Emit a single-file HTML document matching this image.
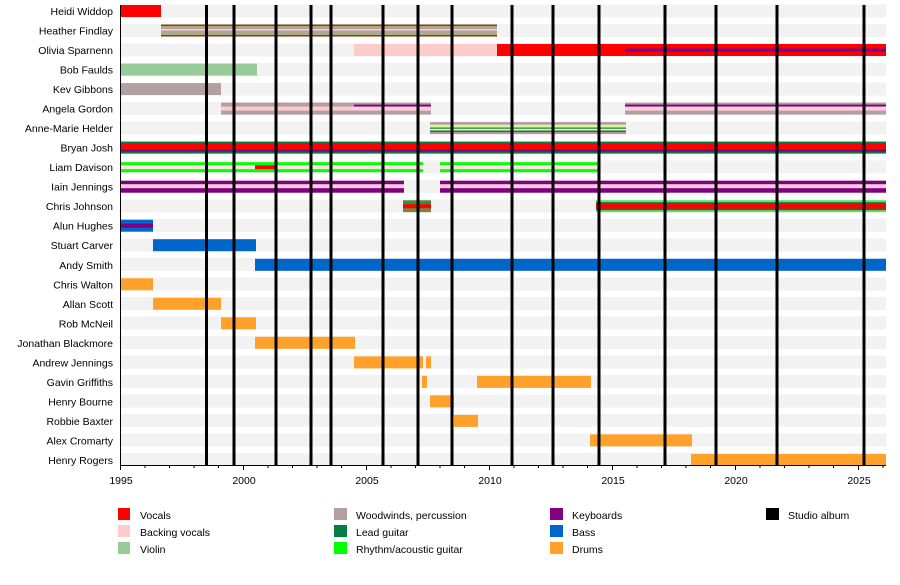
<!DOCTYPE html>
<html><head><meta charset="utf-8"><style>
body{margin:0;background:#fff;}
svg{display:block;font-family:"Liberation Sans",sans-serif;}
</style></head><body>
<svg width="900" height="585" viewBox="0 0 900 585" xmlns="http://www.w3.org/2000/svg">
<g fill="#f2f2f2">
<rect x="120" y="4.5" width="766" height="13"/><rect x="120" y="24" width="766" height="13"/><rect x="120" y="43.5" width="766" height="13"/><rect x="120" y="63" width="766" height="13"/><rect x="120" y="82.5" width="766" height="13"/><rect x="120" y="102" width="766" height="13"/><rect x="120" y="121.5" width="766" height="13"/><rect x="120" y="141" width="766" height="13"/><rect x="120" y="160.5" width="766" height="13"/><rect x="120" y="180" width="766" height="13"/><rect x="120" y="199.5" width="766" height="13"/><rect x="120" y="219" width="766" height="13"/><rect x="120" y="238.5" width="766" height="13"/><rect x="120" y="258" width="766" height="13"/><rect x="120" y="277.5" width="766" height="13"/><rect x="120" y="297" width="766" height="13"/><rect x="120" y="316.5" width="766" height="13"/><rect x="120" y="336" width="766" height="13"/><rect x="120" y="355.5" width="766" height="13"/><rect x="120" y="375" width="766" height="13"/><rect x="120" y="394.5" width="766" height="13"/><rect x="120" y="414" width="766" height="13"/><rect x="120" y="433.5" width="766" height="13"/><rect x="120" y="453" width="766" height="13"/>
</g>
<g font-size="10.5" text-anchor="end" fill="#000">
<text x="113" y="15">Heidi Widdop</text><text x="113" y="34.5">Heather Findlay</text><text x="113" y="54">Olivia Sparnenn</text><text x="113" y="73.6">Bob Faulds</text><text x="113" y="93.1">Kev Gibbons</text><text x="113" y="112.6">Angela Gordon</text><text x="113" y="132.1">Anne-Marie Helder</text><text x="113" y="151.6">Bryan Josh</text><text x="113" y="171.2">Liam Davison</text><text x="113" y="190.7">Iain Jennings</text><text x="113" y="210.2">Chris Johnson</text><text x="113" y="229.7">Alun Hughes</text><text x="113" y="249.2">Stuart Carver</text><text x="113" y="268.8">Andy Smith</text><text x="113" y="288.3">Chris Walton</text><text x="113" y="307.8">Allan Scott</text><text x="113" y="327.3">Rob McNeil</text><text x="113" y="346.8">Jonathan Blackmore</text><text x="113" y="366.4">Andrew Jennings</text><text x="113" y="385.9">Gavin Griffiths</text><text x="113" y="405.4">Henry Bourne</text><text x="113" y="424.9">Robbie Baxter</text><text x="113" y="444.4">Alex Cromarty</text><text x="113" y="464">Henry Rogers</text>
</g>
<!-- Heidi -->
<rect x="120" y="5" width="41" height="12" fill="#ff0000"/>
<!-- Heather -->
<rect x="161" y="24.5" width="336" height="12" fill="#8b3a1a"/>
<rect x="161" y="26" width="336" height="9" fill="#b3a0a0"/>
<rect x="161" y="26.5" width="336" height="1" fill="#a0c040"/>
<rect x="161" y="33.5" width="336" height="1" fill="#a0c040"/>
<rect x="161" y="29" width="336" height="1.5" fill="#ffcccc"/>
<!-- Olivia -->
<rect x="354" y="44" width="143" height="12" fill="#ffcccc"/>
<rect x="497" y="44" width="389" height="12" fill="#ff0000"/>
<rect x="625" y="48.5" width="261" height="3" fill="#800080"/>
<!-- Bob -->
<rect x="120" y="63.6" width="137" height="12" fill="#99cc99"/>
<!-- Kev -->
<rect x="120" y="83.1" width="101" height="12" fill="#b3a0a0"/>
<!-- Angela -->
<rect x="221" y="102.6" width="133" height="12" fill="#b3a0a0"/>
<rect x="221" y="106.6" width="133" height="4" fill="#ffcccc"/>
<rect x="354" y="102.6" width="77" height="12" fill="#b3a0a0"/>
<rect x="354" y="104.6" width="77" height="2" fill="#800080"/>
<rect x="354" y="106.6" width="77" height="4" fill="#ffccdd"/>
<rect x="625" y="102.6" width="261" height="12" fill="#b3a0a0"/>
<rect x="625" y="104.6" width="261" height="2" fill="#800080"/>
<rect x="625" y="106.6" width="261" height="4" fill="#ffccdd"/>
<!-- Anne-Marie -->
<rect x="430" y="122.1" width="196" height="12" fill="#c090b0"/>
<rect x="430" y="124.6" width="196" height="7" fill="#ccff99"/>
<rect x="430" y="127.6" width="196" height="1" fill="#006030"/>
<rect x="430" y="130.6" width="196" height="1.2" fill="#006030"/>
<!-- Bryan -->
<rect x="120" y="141.6" width="766" height="12" fill="#007f3f"/>
<rect x="120" y="143.6" width="766" height="7" fill="#ff0000"/>
<rect x="120" y="149.6" width="766" height="2" fill="#800080"/>
<!-- Liam -->
<rect x="120" y="162.2" width="303" height="3" fill="#00ff00"/>
<rect x="120" y="165.2" width="303" height="4" fill="#ffe0e0"/>
<rect x="120" y="169.2" width="303" height="3" fill="#00ff00"/>
<rect x="255" y="165.2" width="21" height="4" fill="#ff0000"/>
<rect x="440" y="162.2" width="158" height="3" fill="#00ff00"/>
<rect x="440" y="165.2" width="158" height="4" fill="#ffe0e0"/>
<rect x="440" y="169.2" width="158" height="3" fill="#00ff00"/>
<!-- Iain -->
<rect x="120" y="180.7" width="284" height="12" fill="#800080"/>
<rect x="120" y="184.2" width="284" height="4" fill="#ffccdd"/>
<rect x="440" y="180.7" width="446" height="12" fill="#800080"/>
<rect x="440" y="184.2" width="446" height="4" fill="#ffccdd"/>
<!-- Chris Johnson -->
<rect x="403" y="200.2" width="28" height="12" fill="#808040"/>
<rect x="403" y="201.7" width="28" height="2" fill="#00a040"/>
<rect x="403" y="204.2" width="28" height="4" fill="#ff0000"/>
<rect x="596" y="200.2" width="290" height="12" fill="#66dd66"/>
<rect x="596" y="202.2" width="290" height="8" fill="#007f3f"/>
<rect x="596" y="203.7" width="290" height="5" fill="#ff0000"/>
<!-- Alun -->
<rect x="120" y="219.7" width="33" height="12" fill="#0066cc"/>
<rect x="120" y="223.7" width="33" height="4" fill="#800080"/>
<!-- Stuart / Andy -->
<rect x="153" y="239.2" width="103" height="12" fill="#0066cc"/>
<rect x="255" y="258.8" width="631" height="12" fill="#0066cc"/>
<!-- Drums -->
<g fill="#ffa12b">
<rect x="120" y="278.3" width="33" height="12"/>
<rect x="153" y="297.8" width="68" height="12"/>
<rect x="221" y="317.3" width="35" height="12"/>
<rect x="255" y="336.8" width="100" height="12"/>
<rect x="354" y="356.4" width="69" height="12"/>
<rect x="426" y="356.4" width="5" height="12"/>
<rect x="422" y="375.9" width="5" height="12"/>
<rect x="477" y="375.9" width="114" height="12"/>
<rect x="430" y="395.4" width="24" height="12"/>
<rect x="454" y="414.9" width="24" height="12"/>
<rect x="590" y="434.4" width="102" height="12"/>
<rect x="691" y="454" width="195" height="12"/>
</g>
<!-- albums -->
<g stroke="#000" stroke-width="3">
<line x1="206.5" y1="5" x2="206.5" y2="465"/><line x1="234" y1="5" x2="234" y2="465"/><line x1="276" y1="5" x2="276" y2="465"/><line x1="311" y1="5" x2="311" y2="465"/><line x1="331" y1="5" x2="331" y2="465"/><line x1="383" y1="5" x2="383" y2="465"/><line x1="418" y1="5" x2="418" y2="465"/><line x1="452" y1="5" x2="452" y2="465"/><line x1="512" y1="5" x2="512" y2="465"/><line x1="553" y1="5" x2="553" y2="465"/><line x1="599" y1="5" x2="599" y2="465"/><line x1="665" y1="5" x2="665" y2="465"/><line x1="716" y1="5" x2="716" y2="465"/><line x1="777" y1="5" x2="777" y2="465"/><line x1="864" y1="5" x2="864" y2="465"/>
</g>
<!-- axes -->
<g stroke="#000" stroke-width="1">
<line x1="120.5" y1="5" x2="120.5" y2="466"/>
<line x1="120" y1="465.5" x2="886" y2="465.5"/>
<line x1="120.5" y1="465" x2="120.5" y2="470"/><line x1="243.5" y1="465" x2="243.5" y2="470"/><line x1="366.5" y1="465" x2="366.5" y2="470"/><line x1="489.5" y1="465" x2="489.5" y2="470"/><line x1="612.5" y1="465" x2="612.5" y2="470"/><line x1="735.5" y1="465" x2="735.5" y2="470"/><line x1="858.5" y1="465" x2="858.5" y2="470"/>
<line x1="145" y1="465" x2="145" y2="468"/><line x1="169.5" y1="465" x2="169.5" y2="468"/><line x1="194" y1="465" x2="194" y2="468"/><line x1="218.5" y1="465" x2="218.5" y2="468"/>
<line x1="268" y1="465" x2="268" y2="468"/><line x1="292.5" y1="465" x2="292.5" y2="468"/><line x1="317" y1="465" x2="317" y2="468"/><line x1="341.5" y1="465" x2="341.5" y2="468"/>
<line x1="391" y1="465" x2="391" y2="468"/><line x1="415.5" y1="465" x2="415.5" y2="468"/><line x1="440" y1="465" x2="440" y2="468"/><line x1="464.5" y1="465" x2="464.5" y2="468"/>
<line x1="514" y1="465" x2="514" y2="468"/><line x1="538.5" y1="465" x2="538.5" y2="468"/><line x1="563" y1="465" x2="563" y2="468"/><line x1="587.5" y1="465" x2="587.5" y2="468"/>
<line x1="637" y1="465" x2="637" y2="468"/><line x1="661.5" y1="465" x2="661.5" y2="468"/><line x1="686" y1="465" x2="686" y2="468"/><line x1="710.5" y1="465" x2="710.5" y2="468"/>
<line x1="760" y1="465" x2="760" y2="468"/><line x1="784.5" y1="465" x2="784.5" y2="468"/><line x1="809" y1="465" x2="809" y2="468"/><line x1="833.5" y1="465" x2="833.5" y2="468"/><line x1="883" y1="465" x2="883" y2="468"/>
</g>
<g font-size="10.5" text-anchor="middle" fill="#000">
<text x="121" y="484">1995</text><text x="244" y="484">2000</text><text x="367" y="484">2005</text><text x="490" y="484">2010</text><text x="613" y="484">2015</text><text x="736" y="484">2020</text><text x="859" y="484">2025</text>
</g>
<!-- legend -->
<g>
<rect x="118" y="508" width="12" height="12" fill="#ff0000"/>
<rect x="118" y="525" width="12" height="12" fill="#ffcccc"/>
<rect x="118" y="542" width="12" height="12" fill="#99cc99"/>
<rect x="334" y="508" width="13" height="12" fill="#b3a0a0"/>
<rect x="334" y="525" width="13" height="12" fill="#007f3f"/>
<rect x="334" y="542" width="13" height="12" fill="#00ff00"/>
<rect x="550" y="508" width="13" height="12" fill="#800080"/>
<rect x="550" y="525" width="13" height="12" fill="#0066cc"/>
<rect x="550" y="542" width="13" height="12" fill="#ffa12b"/>
<rect x="766" y="508" width="13" height="12" fill="#000"/>
</g>
<g font-size="10.5" fill="#000">
<text x="140" y="519">Vocals</text><text x="140" y="536">Backing vocals</text><text x="140" y="553">Violin</text>
<text x="356" y="519">Woodwinds, percussion</text><text x="356" y="536">Lead guitar</text><text x="356" y="553">Rhythm/acoustic guitar</text>
<text x="572" y="519">Keyboards</text><text x="572" y="536">Bass</text><text x="572" y="553">Drums</text>
<text x="788" y="519">Studio album</text>
</g>
</svg>
</body></html>
